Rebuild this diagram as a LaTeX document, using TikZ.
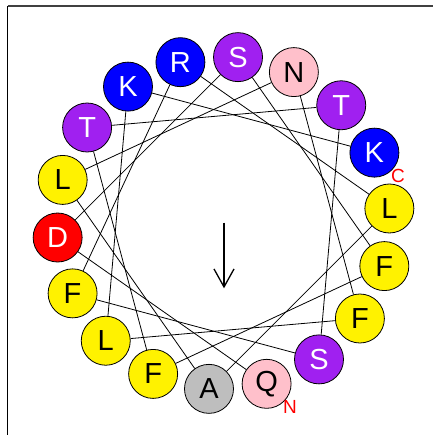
\documentclass[tikz,border=0pt]{standalone}
\usepackage{fontspec}
\setmainfont{Liberation Sans}
\usetikzlibrary{arrows.meta,calc}
\definecolor{hpurple}{RGB}{160,32,240}
\definecolor{hpink}{RGB}{255,192,203}
\definecolor{hgray}{RGB}{190,190,190}
\tikzset{
  res/.style={circle, draw=black, line width=0.8pt, minimum size=49pt, inner sep=0pt,
    font=\fontsize{29}{29}\selectfont},
  rbasic/.style={res, fill=blue, text=white},
  rpolar/.style={res, fill=hpurple, text=white},
  ramide/.style={res, fill=hpink, text=black},
  rhydro/.style={res, fill=yellow, text=black},
  racid/.style={res, fill=red, text=white},
  rala/.style={res, fill=hgray, text=black},
  link/.style={line width=0.8pt, black},
  term/.style={text=red, font=\fontsize{19}{19}\selectfont, inner sep=0pt},
}
\begin{document}
\begin{tikzpicture}[x=1pt, y=-1pt]
\useasboundingbox (0,0) rectangle (433,435);
% frame
\draw[line width=1.8pt, black!75] (7.5,6.3) -- (433,6.3);
\draw[line width=1.3pt] (7.5,6.3) -- (7.5,435);
% residues on the wheel, 100 degrees apart
\def\cx{223.5}\def\cy{223}\def\rr{166.5}
\foreach \k/\aa/\st in {0/Q/ramide, 1/D/racid, 2/S/rpolar, 3/F/rhydro, 4/F/rhydro, 5/T/rpolar,
  6/T/rpolar, 7/S/rpolar, 8/F/rhydro, 9/R/rbasic, 10/L/rhydro, 11/A/rala, 12/L/rhydro, 13/N/ramide,
  14/F/rhydro, 15/L/rhydro, 16/K/rbasic, 17/K/rbasic}{
  \pgfmathsetmacro{\ang}{-75-100*\k}
  \node[\st] (r\k) at ({\cx+\rr*cos(\ang)},{\cy-\rr*sin(\ang)}) {\aa};
}
\foreach \k in {0,...,16}{
  \pgfmathtruncatemacro{\n}{\k+1}
  \draw[link] (r\k) -- (r\n);
}
% termini
\node[term] (nterm) at ($(r0)+(23.5,23.5)$) {N};
\node[term] (cterm) at ($(r17)+(23.5,23.5)$) {C};
% moment arrow
\coordinate (mtop) at (224,222.7);
\coordinate (mtip) at (224,288.3);
\draw[line width=1.3pt, -{Straight Barb[length=18pt, width=20pt, line width=1.3pt]}] (mtop) -- (mtip);
\end{tikzpicture}
\end{document}
